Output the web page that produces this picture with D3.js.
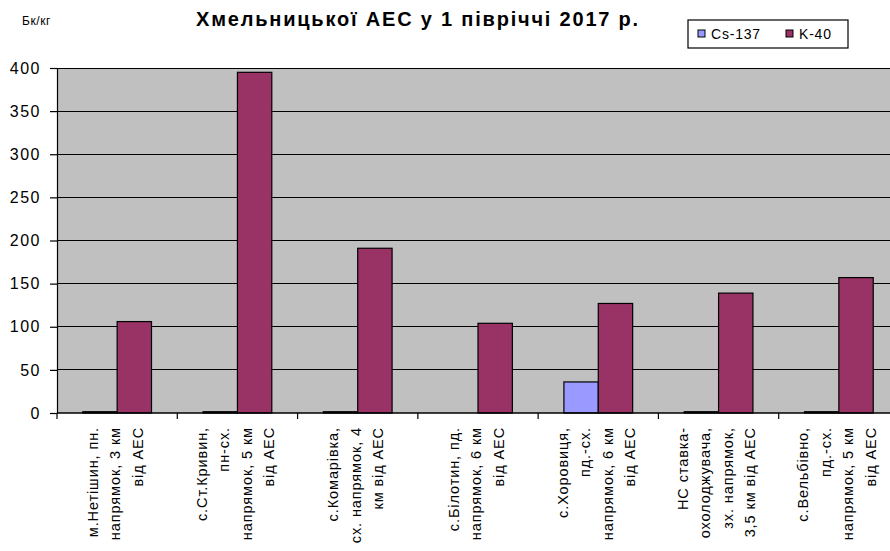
<!DOCTYPE html>
<html><head><meta charset="utf-8">
<script src="https://cdn.jsdelivr.net/npm/d3@7"></script>
<style>body{margin:0;background:#fff;overflow:hidden}svg{display:block}text{font-family:"Liberation Sans",Arial,sans-serif}</style>
</head><body><svg id="c" width="890" height="551"></svg>
<script>
const categories = [
  ["м.Нетішин, пн.", "напрямок, 3 км", "від АЕС"],
  ["с.Ст.Кривин,", "пн-сх.", "напрямок, 5 км", "від АЕС"],
  ["с.Комарівка,", "сх. напрямок, 4", "км від АЕС"],
  ["с.Білотин, пд.", "напрямок, 6 км", "від АЕС"],
  ["с.Хоровиця,", "пд.-сх.", "напрямок, 6 км", "від АЕС"],
  ["НС ставка-", "охолоджувача,", "зх. напрямок,", "3,5 км від АЕС"],
  ["с.Вельбівно,", "пд.-сх.", "напрямок, 5 км", "від АЕС"]
];
const seriesNames = ["Cs-137", "K-40"];
const cs137 = [1.5, 1.5, 1.5, 0, 36, 1.5, 1.5];
const k40 = [106, 395, 191, 104, 127, 139, 157];
const yTicks = [0, 50, 100, 150, 200, 250, 300, 350, 400];
const colors = ["#9999FF", "#993366"];
const title = "Хмельницької АЕС у 1 півріччі 2017 р.";
const unit = "Бк/кг";

const svg = d3.select("#c");
const L = 57, R = 899, T = 68, B = 413;
const ids = categories.map((d, i) => i);
const x = d3.scaleBand().domain(ids).range([L, R]).paddingInner(0).paddingOuter(0);
const xi = d3.scaleBand().domain(seriesNames).range([0, x.bandwidth()]).paddingInner(0).paddingOuter(0.75);
const y = d3.scaleLinear().domain([0, 400]).range([B, T]);

svg.append("rect").attr("x", L).attr("y", T).attr("width", R - L).attr("height", B - T).attr("fill", "#C0C0C0");

// gridlines
svg.append("g").selectAll("line").data(yTicks.filter(v => v > 0)).join("line")
  .attr("x1", L).attr("x2", R).attr("y1", d => y(d)).attr("y2", d => y(d))
  .attr("stroke", "#000").attr("stroke-width", 1).attr("shape-rendering", "crispEdges");

// bars
const data = seriesNames.map((s, si) => ({ name: s, values: si === 0 ? cs137 : k40, color: colors[si] }));
data.forEach(s => {
  svg.append("g").selectAll("rect").data(s.values.map((v, i) => ({ v, i }))).join("rect")
    .filter(d => d.v > 0)
    .attr("x", d => x(d.i) + xi(s.name))
    .attr("y", d => y(d.v))
    .attr("width", xi.bandwidth())
    .attr("height", d => B - y(d.v))
    .attr("fill", s.color).attr("stroke", "#000").attr("stroke-width", 1.2);
});

// y axis
const yAxis = d3.axisLeft(y).tickValues(yTicks).tickSize(7).tickPadding(9);
const gy = svg.append("g").attr("transform", `translate(${L},0)`).call(yAxis);
gy.select(".domain").attr("stroke", "#000").attr("stroke-width", 1.2);
gy.selectAll(".tick line").attr("stroke", "#000").attr("stroke-width", 1.2);
gy.selectAll(".tick text").attr("font-size", 16).attr("fill", "#000")
  .attr("letter-spacing", 1.5).attr("font-family", '"Liberation Sans",Arial,sans-serif');

// x axis
const boundaries = ids.map(i => x(i)).concat([R]);
const gx = svg.append("g");
gx.append("line").attr("x1", L).attr("x2", R).attr("y1", B).attr("y2", B).attr("stroke", "#000").attr("stroke-width", 1.5);
gx.selectAll("line.t").data(boundaries).join("line").attr("class", "t")
  .attr("x1", d => d).attr("x2", d => d).attr("y1", B).attr("y2", B + 6).attr("stroke", "#000").attr("stroke-width", 1.2);

// x labels
const lh = 22.5;
categories.forEach((lines, i) => {
  const cx = x(i) + x.bandwidth() / 2;
  const n = lines.length;
  lines.forEach((t, j) => {
    const lx = cx + (j - (n - 1) / 2) * lh + 3;
    svg.append("text").attr("transform", `translate(${lx},427) rotate(-90)`)
      .attr("text-anchor", "end").attr("font-size", 14.5).attr("letter-spacing", 0.9)
      .attr("fill", "#000").text(t);
  });
});

// title and unit
svg.append("text").attr("x", 418).attr("y", 26).attr("text-anchor", "middle")
  .attr("font-size", 20).attr("font-weight", "bold").attr("letter-spacing", 1.8)
  .attr("fill", "#000").text(title);
svg.append("text").attr("x", 22).attr("y", 25).attr("font-size", 12).attr("letter-spacing", 0.6)
  .attr("fill", "#000").text(unit);

// legend
const lg = svg.append("g").attr("transform", "translate(688,20)");
lg.append("rect").attr("x", 0).attr("y", 0).attr("width", 160).attr("height", 28).attr("fill", "#fff").attr("stroke", "#000").attr("stroke-width", 1.2);
const lx = [10, 98];
data.forEach((s, k) => {
  lg.append("rect").attr("x", lx[k]).attr("y", 10).attr("width", 7).attr("height", 7)
    .attr("fill", s.color).attr("stroke", "#000").attr("stroke-width", 1);
  lg.append("text").attr("x", lx[k] + 13).attr("y", 19).attr("font-size", 14).attr("letter-spacing", 0.8)
    .attr("fill", "#000").text(s.name);
});
</script></body></html>
